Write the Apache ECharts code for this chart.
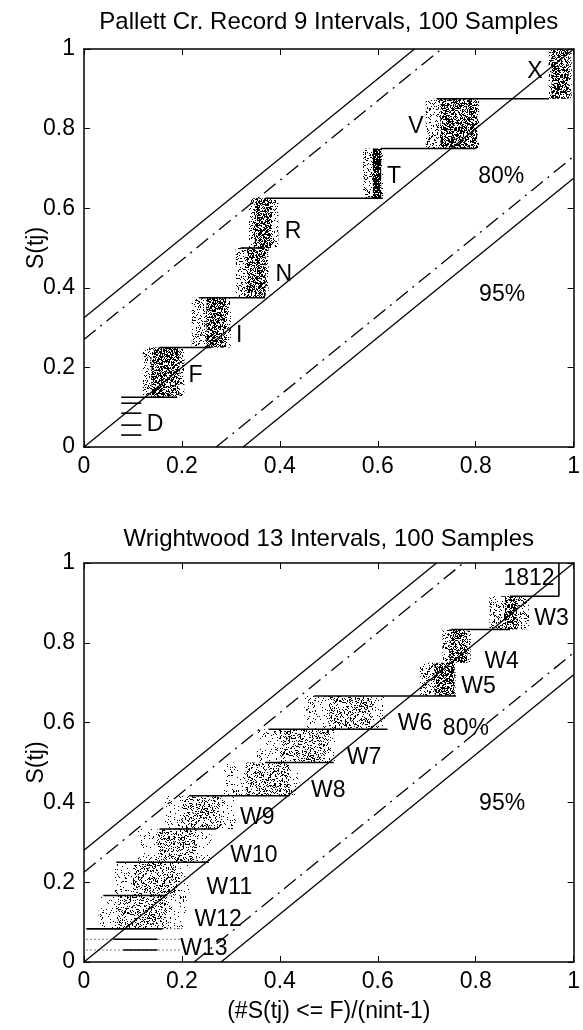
<!DOCTYPE html>
<html><head><meta charset="utf-8">
<script src="https://cdn.jsdelivr.net/npm/echarts/dist/echarts.min.js"></script>
<style>html,body{margin:0;padding:0;background:#fff}#c{width:583px;height:1030px}</style>
</head><body><div id="c"></div>
<script>
// ---------------- DATA ----------------
const tickValues = [0, 0.2, 0.4, 0.6, 0.8, 1];

// Top panel: Pallett Creek
const topBlockNames = ['F', 'I', 'N', 'R', 'T', 'V', 'X'];
const topBlockX0 = [0.12, 0.22, 0.31, 0.337, 0.57, 0.698, 0.949];
const topBlockX1 = [0.205, 0.30, 0.377, 0.397, 0.611, 0.807, 0.996];
const topBlockY0 = [0.125, 0.25, 0.375, 0.5, 0.625, 0.75, 0.875];
const topBlockY1 = [0.25, 0.375, 0.5, 0.625, 0.75, 0.875, 1.0];
const topCoreX0 = [0.138, 0.25, 0.333, 0.347, 0.59, 0.728, 0.955];
const topCoreX1 = [0.195, 0.29, 0.371, 0.384, 0.607, 0.803, 0.99];
const topStepY = [0.125, 0.25, 0.375, 0.5, 0.625, 0.75, 0.875];
const topStepX0 = [0.076, 0.154, 0.235, 0.32, 0.37, 0.607, 0.72];
const topStepX1 = [0.19, 0.26, 0.37, 0.37, 0.61, 0.80, 0.95];
const topDLinesY = [0.03, 0.055, 0.085, 0.11];
const topDLinesX0 = [0.076, 0.076, 0.076, 0.076];
const topDLinesX1 = [0.117, 0.117, 0.117, 0.117];
const topBandUpper95 = [[0, 0.325], [0.675, 1]];
const topBandLower95 = [[0.325, 0], [1, 0.675]];
const topBandUpper80 = [[0, 0.27], [0.73, 1]];
const topBandLower80 = [[0.27, 0], [1, 0.73]];
const topLabelText = ['D', 'F', 'I', 'N', 'R', 'T', 'V', 'X', '80%', '95%'];
const topLabelX = [0.145, 0.228, 0.317, 0.408, 0.427, 0.633, 0.678, 0.921, 0.852, 0.854];
const topLabelY = [0.055, 0.178, 0.281, 0.432, 0.54, 0.68, 0.805, 0.943, 0.68, 0.382];

// Bottom panel: Wrightwood
const botBlockNames = ['W12', 'W11', 'W10', 'W9', 'W8', 'W7', 'W6', 'W5', 'W4', 'W3'];
const botBlockX0 = [0.03, 0.063, 0.11, 0.165, 0.286, 0.353, 0.45, 0.686, 0.732, 0.828];
const botBlockX1 = [0.21, 0.215, 0.26, 0.31, 0.44, 0.515, 0.615, 0.759, 0.79, 0.909];
const botBlockY0 = [0.0833, 0.1667, 0.25, 0.3333, 0.4167, 0.5, 0.5833, 0.6667, 0.75, 0.8333];
const botBlockY1 = [0.1667, 0.25, 0.3333, 0.4167, 0.5, 0.5833, 0.6667, 0.75, 0.8333, 0.9167];
const botCoreX0 = [0.07, 0.10, 0.15, 0.20, 0.33, 0.40, 0.50, 0.716, 0.746, 0.86];
const botCoreX1 = [0.17, 0.19, 0.23, 0.28, 0.42, 0.50, 0.59, 0.757, 0.783, 0.885];
const botStepY = [0.0833, 0.1667, 0.25, 0.3333, 0.4167, 0.5, 0.5833, 0.6667, 0.8333, 0.9167];
const botStepX0 = [0.005, 0.04, 0.066, 0.154, 0.215, 0.37, 0.377, 0.47, 0.75, 0.87];
const botStepX1 = [0.16, 0.17, 0.255, 0.27, 0.42, 0.51, 0.62, 0.76, 0.87, 0.97];
const bot1812X = [0.97, 0.97];
const bot1812Y = [0.9167, 1.0];
const botW13Y = [0.03, 0.057, 0.0833];
const botW13DotX0 = [0.005, 0.005, 0.16];
const botW13DotX1 = [0.2, 0.2, 0.2];
const botW13SolidX0 = [0.08, 0.06, 0.005];
const botW13SolidX1 = [0.15, 0.15, 0.16];
const botBandUpper95 = [[0, 0.28], [0.72, 1]];
const botBandLower95 = [[0.28, 0], [1, 0.72]];
const botBandUpper80 = [[0, 0.225], [0.775, 1]];
const botBandLower80 = [[0.225, 0], [1, 0.775]];
const botLabelText = ['1812', 'W3', 'W4', 'W5', 'W6', 'W7', 'W8', 'W9', 'W10', 'W11', 'W12', 'W13', '80%', '95%'];
const botLabelX = [0.909, 0.955, 0.853, 0.806, 0.676, 0.572, 0.499, 0.354, 0.347, 0.297, 0.274, 0.245, 0.78, 0.854];
const botLabelY = [0.961, 0.86, 0.752, 0.689, 0.598, 0.513, 0.429, 0.361, 0.266, 0.187, 0.105, 0.034, 0.584, 0.397];
const diagonal = [[0, 0], [1, 1]];

const titles = ['Pallett Cr. Record 9 Intervals, 100 Samples', 'Wrightwood 13 Intervals, 100 Samples'];
const yName = 'S(tj)';
const xName = '(#S(tj) <= F)/(nint-1)';

// ---------------- STYLE ----------------
const FONT = 'Liberation Sans';
const topShade = [1, 1, 1, 1, 1, 1, 1];
const topCoreShade = [2, 2, 2, 2, 3, 2, 2];
const botShade = [0, 0, 0, 0, 0, 0, 0, 1, 1, 1];
const botCoreShade = [1, 1, 1, 1, 1, 1, 1, 2, 2, 2];

function stipple(density, seed) {
  const s = 53, cv = document.createElement('canvas');
  cv.width = s; cv.height = s;
  const ctx = cv.getContext('2d');
  ctx.fillStyle = '#000';
  let h = seed;
  for (let y = 0; y < s; y++) for (let x = 0; x < s; x++) {
    h = (h * 1103515245 + 12345) & 0x7fffffff;
    if ((h % 1000) / 1000 < density) ctx.fillRect(x, y, 1, 1);
  }
  return cv;
}
const patterns = [stipple(0.08, 7), stipple(0.2, 11), stipple(0.42, 19), stipple(0.8, 23)];

// ---------------- BUILD ----------------
function blockRows(x0, x1, y0, y1, shade) {
  return x0.map((v, i) => [v, x1[i], y0[i], y1[i], shade[i]]);
}
function segRows(x0, x1, y) {
  return x0.map((v, i) => [v, y[i], x1[i], y[i]]);
}
function renderBlock(params, api) {
  const a = api.coord([api.value(0), api.value(3)]);
  const b = api.coord([api.value(1), api.value(2)]);
  return {
    type: 'rect',
    shape: { x: a[0], y: a[1], width: b[0] - a[0], height: b[1] - a[1] },
    style: { fill: { image: patterns[api.value(4)], repeat: 'repeat' } }
  };
}
function segRenderer(width, dash) {
  return function (params, api) {
    const a = api.coord([api.value(0), api.value(1)]);
    const b = api.coord([api.value(2), api.value(3)]);
    return {
      type: 'line',
      shape: { x1: a[0], y1: a[1], x2: b[0], y2: b[1] },
      style: { stroke: '#000', lineWidth: width, lineDash: dash || null }
    };
  };
}
function blockSeries(g, rows) {
  return { type: 'custom', xAxisIndex: g * 2, yAxisIndex: g * 2, data: rows, renderItem: renderBlock,
    encode: { x: [0, 1], y: [2, 3] }, clip: true, silent: true, z: 2 };
}
function segSeries(g, rows, width, dash) {
  return { type: 'custom', xAxisIndex: g * 2, yAxisIndex: g * 2, data: rows, renderItem: segRenderer(width, dash),
    encode: { x: [0, 2], y: [1, 3] }, clip: true, silent: true, z: 4 };
}
function lineSeries(g, data, type) {
  return { type: 'line', xAxisIndex: g * 2, yAxisIndex: g * 2, data: data, symbol: 'none', silent: true,
    lineStyle: { color: '#000', width: 1.3, type: type }, clip: true, z: 3 };
}
function labelSeries(g, xs, ys, texts) {
  return { type: 'scatter', xAxisIndex: g * 2, yAxisIndex: g * 2, symbolSize: 0, silent: true, z: 6,
    itemStyle: { opacity: 1 },
    data: xs.map((x, i) => ({ value: [x, ys[i]], name: texts[i] })),
    label: { show: true, position: 'inside', formatter: p => p.name, color: '#000', opacity: 1,
      fontSize: 23, fontFamily: FONT } };
}
const dashDot = [15, 6, 2, 6];

const series = [
  blockSeries(0, blockRows(topBlockX0, topBlockX1, topBlockY0, topBlockY1, topShade)),
  blockSeries(0, blockRows(topCoreX0, topCoreX1, topBlockY0, topBlockY1, topCoreShade)),
  segSeries(0, segRows(topStepX0, topStepX1, topStepY), 1.6),
  segSeries(0, segRows(topDLinesX0, topDLinesX1, topDLinesY), 1.6),
  lineSeries(0, diagonal, 'solid'),
  lineSeries(0, topBandUpper95, 'solid'),
  lineSeries(0, topBandLower95, 'solid'),
  lineSeries(0, topBandUpper80, dashDot),
  lineSeries(0, topBandLower80, dashDot),
  labelSeries(0, topLabelX, topLabelY, topLabelText),

  blockSeries(1, blockRows(botBlockX0, botBlockX1, botBlockY0, botBlockY1, botShade)),
  blockSeries(1, blockRows(botCoreX0, botCoreX1, botBlockY0, botBlockY1, botCoreShade)),
  segSeries(1, segRows(botStepX0, botStepX1, botStepY), 1.6),
  segSeries(1, [[bot1812X[0], bot1812Y[0], bot1812X[1], bot1812Y[1]]], 1.6),
  segSeries(1, segRows(botW13DotX0, botW13DotX1, botW13Y), 1, [1, 3]),
  segSeries(1, segRows(botW13SolidX0, botW13SolidX1, botW13Y), 1.6),
  lineSeries(1, diagonal, 'solid'),
  lineSeries(1, botBandUpper95, 'solid'),
  lineSeries(1, botBandLower95, 'solid'),
  lineSeries(1, botBandUpper80, dashDot),
  lineSeries(1, botBandLower80, dashDot),
  labelSeries(1, botLabelX, botLabelY, botLabelText)
];

const axisLine = { show: true, onZero: false, lineStyle: { color: '#000', width: 1.5 } };
const axisTick = { show: true, inside: true, length: 6, lineStyle: { color: '#000', width: 1 } };
const labelStyle = { color: '#000', fontSize: 23, fontFamily: FONT };
const nameStyle = { color: '#000', fontSize: 23, fontFamily: FONT };
const titleStyle = { color: '#000', fontSize: 24, fontFamily: FONT };

const xAxes = [], yAxes = [];
[0, 1].forEach(g => {
  xAxes.push({ gridIndex: g, type: 'value', min: tickValues[0], max: tickValues[tickValues.length - 1], interval: tickValues[1] - tickValues[0],
    position: 'bottom', axisLine, axisTick, splitLine: { show: false },
    axisLabel: Object.assign({ margin: 8 }, labelStyle),
    name: g === 1 ? xName : '', nameLocation: 'middle', nameGap: 38, nameMoveOverlap: false,
    nameTextStyle: nameStyle });
  xAxes.push({ gridIndex: g, type: 'value', min: 0, max: 1, interval: 0.2, position: 'top', axisLine, axisTick,
    splitLine: { show: false }, axisLabel: { show: false },
    name: titles[g], nameLocation: 'middle', nameGap: g === 0 ? 15 : 12, nameMoveOverlap: false,
    nameTextStyle: titleStyle });
  yAxes.push({ gridIndex: g, type: 'value', min: 0, max: 1, interval: 0.2, position: 'left', axisLine, axisTick,
    splitLine: { show: false }, axisLabel: Object.assign({ margin: 9 }, labelStyle),
    name: yName, nameLocation: 'middle', nameGap: 36, nameMoveOverlap: false,
    nameTextStyle: nameStyle });
  yAxes.push({ gridIndex: g, type: 'value', min: 0, max: 1, interval: 0.2, position: 'right', axisLine, axisTick,
    splitLine: { show: false }, axisLabel: { show: false } });
});

const chart = echarts.init(document.getElementById('c'), null, { renderer: 'canvas' });
chart.setOption({
  backgroundColor: '#fff',
  animation: false,
  grid: [
    { left: 84, top: 49, width: 493, height: 398 },
    { left: 84, top: 563, width: 493, height: 399 }
  ],
  xAxis: xAxes,
  yAxis: yAxes,
  series: series
});
</script></body></html>
